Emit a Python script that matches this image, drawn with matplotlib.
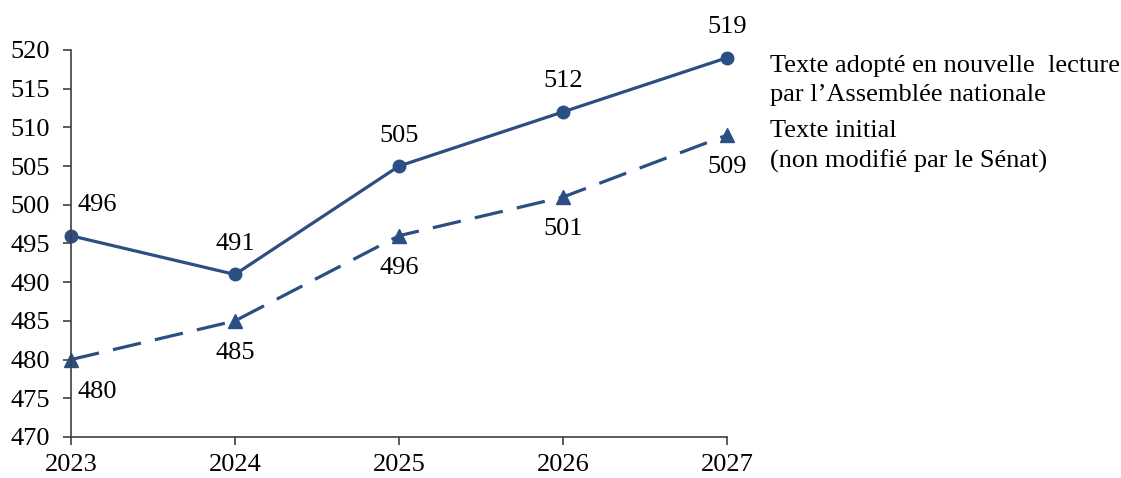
import matplotlib.pyplot as plt

years = [2023, 2024, 2025, 2026, 2027]
adopte = [496, 491, 505, 512, 519]
initial = [480, 485, 496, 501, 509]

color = '#2B4F82'
plt.rcParams['font.family'] = ['Liberation Serif', 'DejaVu Serif']
fs = 19

fig = plt.figure(figsize=(11.21, 4.78), dpi=100)
ax = fig.add_axes([0.0633, 0.0858, 0.5852, 0.8096])

ax.plot(years, adopte, color=color, lw=2.3, marker='o', ms=9, clip_on=False)
ax.plot(years, initial, color=color, lw=2.3, marker='^', ms=9.5,
        dashes=(9, 4.5), clip_on=False)

# value labels: solid line above, dashed line below
for i, (x, y) in enumerate(zip(years, adopte)):
    dx = 19 if i == 0 else 0
    ax.annotate(str(y), (x, y), xytext=(dx, 22), textcoords='offset points',
                ha='center', va='center', fontsize=fs)
for i, (x, y) in enumerate(zip(years, initial)):
    dx = 19 if i == 0 else 0
    ax.annotate(str(y), (x, y), xytext=(dx, -23), textcoords='offset points',
                ha='center', va='center', fontsize=fs)

ax.set_xlim(2023, 2027)
ax.set_ylim(470, 520)
ax.set_yticks(range(470, 521, 5))
ax.set_xticks(years)
ax.spines['top'].set_visible(False)
ax.spines['right'].set_visible(False)
for s in ['left', 'bottom']:
    ax.spines[s].set_color('#404040')
    ax.spines[s].set_linewidth(1.2)
ax.tick_params(axis='both', colors='#404040', labelcolor='black',
               labelsize=fs, length=6, width=1.2)
ax.tick_params(axis='y', pad=9)
ax.tick_params(axis='x', pad=6)

fig.text(0.687, 0.832, "Texte adopté en nouvelle  lecture\npar l\u2019Assemblée nationale",
         fontsize=fs, va='center', ha='left', linespacing=1.42)
fig.text(0.687, 0.693, "Texte initial\n(non modifié par le Sénat)",
         fontsize=fs, va='center', ha='left', linespacing=1.42)

fig.savefig('out.png', dpi=100)
